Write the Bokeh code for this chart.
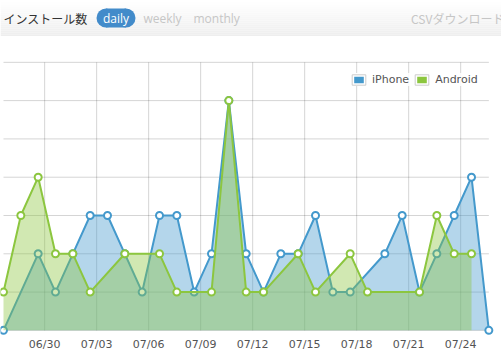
import pandas as pd
from bokeh.plotting import figure
from bokeh.layouts import column
from bokeh.models import Range1d, FixedTicker, DatetimeTickFormatter, Legend, LegendItem
from bokeh.core.properties import value
from bokeh.embed import file_html
from bokeh.resources import INLINE

# ---------------- data ----------------
YEAR = "2013"
IPHONE_DATES = ["06/28", "06/30", "07/01", "07/02", "07/03", "07/04", "07/05", "07/06",
                "07/07", "07/08", "07/09", "07/10", "07/11", "07/12", "07/13", "07/14",
                "07/15", "07/16", "07/17", "07/18", "07/20", "07/21", "07/22", "07/23",
                "07/24", "07/25", "07/26"]
IPHONE_VALUES = [0, 2, 1, 2, 3, 3, 2, 1,
                 3, 3, 1, 2, 6, 2, 1, 2,
                 2, 3, 1, 1, 2, 3, 1, 2,
                 3, 4, 0]
ANDROID_DATES = ["06/28", "06/29", "06/30", "07/01", "07/02", "07/03", "07/05", "07/07",
                 "07/08", "07/10", "07/11", "07/12", "07/13", "07/15", "07/16", "07/18",
                 "07/19", "07/22", "07/23", "07/24", "07/25"]
ANDROID_VALUES = [1, 3, 4, 2, 2, 1, 2, 2,
                  1, 1, 6, 1, 1, 2, 1, 2,
                  1, 1, 3, 2, 2]
X_TICK_LABELS = ["06/30", "07/03", "07/06", "07/09", "07/12", "07/15", "07/18", "07/21", "07/24"]
Y_TICKS = [0, 1, 2, 3, 4, 5, 6, 7]
SERIES_NAMES = ["iPhone", "Android"]
HEADER_TITLE = "インストール数"
PERIODS = ["daily", "weekly", "monthly"]
CSV_LABEL = "CSVダウンロード"

BLUE = "#4499cc"
GREEN = "#8cc63f"
DAY_MS = 86400000
NAN = float("nan")


def to_time(dates):
    # points are JST midnights shown on a UTC time axis (shifted by 9 hours)
    return pd.to_datetime([f"{YEAR}/{d}" for d in dates], format="%Y/%m/%d") - pd.Timedelta(hours=9)


def ms(ts):
    return ts.value // 10**6


ip_t = to_time(IPHONE_DATES)
an_t = to_time(ANDROID_DATES)
tick_ms = [ms(pd.Timestamp(f"{YEAR}/{d}")) for d in X_TICK_LABELS]
first_ms = min(ms(ip_t[0]), ms(an_t[0]))
last_ms = max(ms(ip_t[-1]), ms(an_t[-1]))

# ---------------- header ----------------
hdr = figure(width=501, height=36, x_range=Range1d(0, 501), y_range=Range1d(36, 0),
             output_backend="svg", toolbar_location=None,
             x_axis_location=None, y_axis_location=None, min_border=0,
             outline_line_color=None, background_fill_color="white", border_fill_color="white")
hdr.grid.visible = False

n_bands = 18
band_h = 36 / n_bands
tops = [i * band_h for i in range(n_bands)]
bottoms = [(i + 1) * band_h for i in range(n_bands)]
cols = []
for i in range(n_bands):
    c = int(round(255 - (255 - 238) * i / (n_bands - 1)))
    cols.append("#%02x%02x%02x" % (c, c, c))
hdr.quad(left=0, right=501, top=tops, bottom=bottoms, fill_color=cols, line_color=None)

hdr.text(x=[3], y=[18], text=[HEADER_TITLE], text_font=value("Noto Sans CJK JP"),
         text_font_size="12px", text_baseline="middle", text_color="#333333")
# pill for the active period
hdr.rect(x=[115.5], y=[17.5], width=20, height=19, fill_color="#428bca", line_color=None)
hdr.circle(x=[105.5, 125.5], y=[17.5, 17.5], radius=9.5, fill_color="#428bca", line_color=None)
hdr.text(x=[115.5], y=[18], text=[PERIODS[0]], text_font=value("Open Sans"),
         text_font_size="12px", text_baseline="middle", text_align="center", text_color="white")
hdr.text(x=[143, 193], y=[18, 18], text=PERIODS[1:], text_font=value("Open Sans"),
         text_font_size="12px", text_baseline="middle", text_color="#c6c6c6")
hdr.text(x=[410.5], y=[18], text=[CSV_LABEL], text_font=value("Noto Sans CJK JP"),
         text_font_size="12px", text_baseline="middle", text_color="#c6c6c6")

# ---------------- chart ----------------
p = figure(width=501, height=320, x_axis_type="datetime",
           x_range=Range1d(first_ms - 0.173 * DAY_MS, last_ms + 0.73 * DAY_MS),
           y_range=Range1d(-0.16, 7.1),
           output_backend="svg", toolbar_location=None, y_axis_location=None,
           min_border_left=0, min_border_right=0, min_border_top=22, min_border_bottom=20,
           outline_line_color=None, background_fill_color="white", border_fill_color="white")
p.grid.visible = False

# grid lines limited to the data area
p.segment(x0=[first_ms] * len(Y_TICKS), x1=[last_ms] * len(Y_TICKS), y0=Y_TICKS, y1=Y_TICKS,
          line_color="black", line_alpha=0.17, line_width=1)
p.segment(x0=tick_ms, x1=tick_ms, y0=[Y_TICKS[0]] * len(tick_ms), y1=[Y_TICKS[-1]] * len(tick_ms),
          line_color="black", line_alpha=0.17, line_width=1)

for t, vals, color in [(ip_t, IPHONE_VALUES, BLUE), (an_t, ANDROID_VALUES, GREEN)]:
    p.varea(x=t, y1=0, y2=vals, fill_color=color, fill_alpha=0.4)
    p.line(t, vals, line_color=color, line_width=2)
    p.scatter(t, vals, size=7, fill_color="white", line_color=color, line_width=2)

ax = p.xaxis[0]
ax.ticker = FixedTicker(ticks=tick_ms)
ax.formatter = DatetimeTickFormatter(days="%m/%d", months="%m/%d", hours="%m/%d",
                                     minutes="%m/%d", years="%m/%d")
ax.axis_line_color = None
ax.major_tick_line_color = None
ax.minor_tick_line_color = None
ax.major_tick_out = 0
ax.major_tick_in = 0
ax.major_label_standoff = 1
ax.major_label_text_font = "DejaVu Sans"
ax.major_label_text_font_size = "11px"
ax.major_label_text_color = "#545454"

# legend swatches (dummy renderers that draw nothing in the plot)
items = []
for name, color in zip(SERIES_NAMES, [BLUE, GREEN]):
    r1 = p.quad(left=[NAN], right=[NAN], top=[NAN], bottom=[NAN],
                fill_color=color, line_color="white", line_width=4)
    r2 = p.quad(left=[NAN], right=[NAN], top=[NAN], bottom=[NAN],
                fill_color=None, line_color="#cccccc", line_width=1)
    items.append(LegendItem(label=name, renderers=[r1, r2]))

legend = Legend(items=items, orientation="horizontal", location=(350, 250),
                glyph_width=17, glyph_height=13, label_standoff=5, spacing=4, padding=3, margin=0,
                label_height=13, label_width=10,
                background_fill_color="white", background_fill_alpha=0.85, border_line_color=None,
                label_text_font="DejaVu Sans", label_text_font_size="11px",
                label_text_color="#545454", label_text_baseline="middle")
p.add_layout(legend)

layout = column(hdr, p, spacing=0)
open("out.html", "w").write(file_html(layout, INLINE))
